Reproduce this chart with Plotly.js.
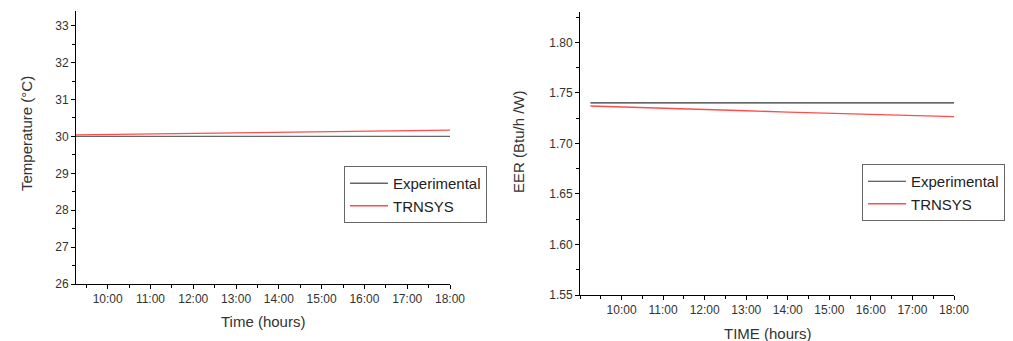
<!DOCTYPE html>
<html><head><meta charset="utf-8">
<script src="https://cdn.plot.ly/plotly-3.0.1.min.js"></script>
<style>body{margin:0;background:#fff}#chart{width:1013px;height:341px}</style>
</head><body><div id="chart"></div>
<script>
const timeHours = [9.25, 10, 11, 12, 13, 14, 15, 16, 17, 18];
const tempExperimental = [30.0, 30.0, 30.0, 30.0, 30.0, 30.0, 30.0, 30.0, 30.0, 30.0];
const tempTRNSYS = [30.04, 30.05, 30.07, 30.08, 30.10, 30.11, 30.13, 30.14, 30.16, 30.17];
const eerExperimental = [1.740, 1.740, 1.740, 1.740, 1.740, 1.740, 1.740, 1.740, 1.740, 1.740];
const eerTRNSYS = [1.737, 1.7362, 1.7349, 1.7336, 1.7323, 1.7310, 1.7297, 1.7285, 1.7275, 1.7265];
const tickHours = [10, 11, 12, 13, 14, 15, 16, 17, 18];
const tickLabels = ["10:00", "11:00", "12:00", "13:00", "14:00", "15:00", "16:00", "17:00", "18:00"];

const W = 1013, H = 341;
const fam = "Liberation Sans, Arial, sans-serif";
const font = {family: fam, size: 12, color: "#333"};
function xax(dom, r) {
  return {domain: dom, range: r, tickmode: "array", tickvals: tickHours, ticktext: tickLabels,
    showline: true, linecolor: "#000", linewidth: 1, ticks: "outside", ticklen: 4, tickcolor: "#000",
    showgrid: false, zeroline: false, tickfont: font,
    minor: {ticks: "outside", ticklen: 3, dtick: 0.5, tick0: 9.5, tickcolor: "#000", showgrid: false}};
}
function yax(dom, r, dt, mdt, fmt) {
  return {domain: dom, range: r, dtick: dt, tick0: r[0], tickformat: fmt,
    showline: true, linecolor: "#000", linewidth: 1, ticks: "outside", ticklen: 4, tickcolor: "#000",
    showgrid: false, zeroline: false, tickfont: font,
    minor: {ticks: "outside", ticklen: 3, dtick: mdt, tickcolor: "#000", showgrid: false}};
}
const traces = [
  {x: timeHours, y: tempExperimental, name: "Experimental", mode: "lines", line: {color: "#666", width: 1.3}, xaxis: "x", yaxis: "y", legend: "legend"},
  {x: timeHours, y: tempTRNSYS, name: "TRNSYS", mode: "lines", line: {color: "#ff4d4d", width: 1.3}, xaxis: "x", yaxis: "y", legend: "legend"},
  {x: timeHours, y: eerExperimental, name: "Experimental", mode: "lines", line: {color: "#333", width: 1.2}, xaxis: "x2", yaxis: "y2", legend: "legend2"},
  {x: timeHours, y: eerTRNSYS, name: "TRNSYS", mode: "lines", line: {color: "#ff4d4d", width: 1.3}, xaxis: "x2", yaxis: "y2", legend: "legend2"}
];
const legFont = {family: fam, size: 15, color: "#222"};
const layout = {
  width: W, height: H, margin: {l: 0, r: 0, t: 0, b: 0},
  paper_bgcolor: "#fff", plot_bgcolor: "#fff", showlegend: true,
  xaxis: Object.assign(xax([76/W, 450/W], [9.26, 18]), {anchor: "y"}),
  yaxis: Object.assign(yax([1-284/H, 1-11/H], [26, 33.4], 1, 0.5, "d"), {anchor: "x"}),
  xaxis2: Object.assign(xax([580/W, 954/W], [9.0, 18]), {anchor: "y2"}),
  yaxis2: Object.assign(yax([1-295/H, 1-12/H], [1.55, 1.83], 0.05, 0.025, ".2f"), {anchor: "x2"}),
  legend: {x: 344/W, y: 1-166/H, xanchor: "left", yanchor: "top", bordercolor: "#666", borderwidth: 1,
    bgcolor: "#fff", font: legFont, tracegroupgap: 0, itemwidth: 38},
  legend2: {x: 862/W, y: 1-164/H, xanchor: "left", yanchor: "top", bordercolor: "#666", borderwidth: 1,
    bgcolor: "#fff", font: legFont, tracegroupgap: 0, itemwidth: 38},
  annotations: [
    {text: "Temperature (°C)", x: 26/W, y: 1-134/H, xanchor: "center", yanchor: "middle", xref: "paper", yref: "paper", textangle: -90, showarrow: false, font: {family: fam, size: 15, color: "#333"}},
    {text: "Time (hours)", x: 263/W, y: 1-321/H, xanchor: "center", yanchor: "middle", xref: "paper", yref: "paper", showarrow: false, font: {family: fam, size: 15, color: "#333"}},
    {text: "EER (Btu/h /W)", x: 518/W, y: 1-142/H, xanchor: "center", yanchor: "middle", xref: "paper", yref: "paper", textangle: -90, showarrow: false, font: {family: fam, size: 15, color: "#333"}},
    {text: "TIME (hours)", x: 768/W, y: 1-333/H, xanchor: "center", yanchor: "middle", xref: "paper", yref: "paper", showarrow: false, font: {family: fam, size: 15, color: "#333"}}
  ]
};
Plotly.newPlot("chart", traces, layout, {staticPlot: true});
</script></body></html>
